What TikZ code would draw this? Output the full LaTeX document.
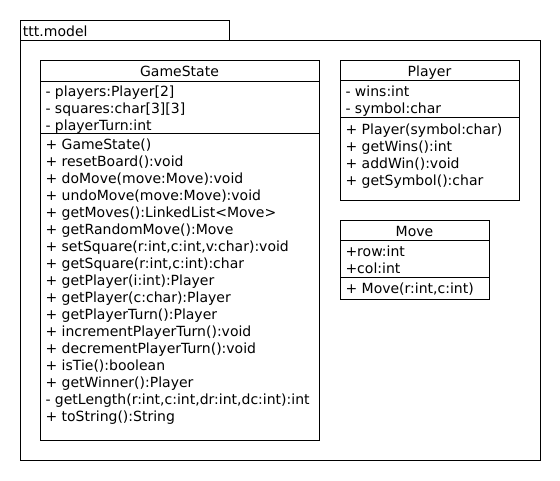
\documentclass[tikz,border=0pt]{standalone}
\usepackage{fontspec}
\setmainfont{DejaVu Sans}
\usepackage{tikz}

\begin{document}
\begin{tikzpicture}[x=1pt, y=-1pt, line width=1pt,
    every node/.style={inner sep=0pt, font=\fontsize{14}{17}\selectfont},
    classbox/.style={draw, anchor=north west},
    members/.style={anchor=base west, align=left}]

    \useasboundingbox (0,0) rectangle (560,480);

    % Package
    \node (tab) [draw, anchor=north west, minimum width=209pt, minimum height=20pt] at (20,20) {};
    \node (pkg) [draw, anchor=north west, minimum width=520pt, minimum height=420pt] at (20,40) {};
    \node (pkgname) [anchor=base west] at (22.5,36) {ttt.model};

    % GameState (members placed by the baseline of their last line)
    \node (gamestate) [classbox, minimum width=279pt, minimum height=380pt] at (40,60) {};
    \node (gamestatename) [anchor=base] at (179.5,76.5) {GameState};
    \draw (gamestate.west |- 0,81) -- (gamestate.east |- 0,81);
    \draw (gamestate.west |- 0,133) -- (gamestate.east |- 0,133);
    \node (gamestateattr) [members] at (45,130) {
        - players:Player[2]\\
        - squares:char[3][3]\\
        - playerTurn:int
    };
    \node (gamestateops) [members] at (45,421.5) {
        + GameState()\\
        + resetBoard():void\\
        + doMove(move:Move):void\\
        + undoMove(move:Move):void\\
        + getMoves():LinkedList<Move>\\
        + getRandomMove():Move\\
        + setSquare(r:int,c:int,v:char):void\\
        + getSquare(r:int,c:int):char\\
        + getPlayer(i:int):Player\\
        + getPlayer(c:char):Player\\
        + getPlayerTurn():Player\\
        + incrementPlayerTurn():void\\
        + decrementPlayerTurn():void\\
        + isTie():boolean\\
        + getWinner():Player\\
        - getLength(r:int,c:int,dr:int,dc:int):int\\
        + toString():String
    };

    % Player
    \node (player) [classbox, minimum width=179pt, minimum height=140pt] at (340,60) {};
    \node (playername) [anchor=base] at (429.5,76.5) {Player};
    \draw (player.west |- 0,80) -- (player.east |- 0,80);
    \draw (player.west |- 0,117) -- (player.east |- 0,117);
    \node (playerattr) [members] at (345,113) {
        - wins:int\\
        - symbol:char
    };
    \node (playerops) [members] at (345,185) {
        + Player(symbol:char)\\
        + getWins():int\\
        + addWin():void\\
        + getSymbol():char
    };

    % Move
    \node (move) [classbox, minimum width=149pt, minimum height=79pt] at (340,220) {};
    \node (movename) [anchor=base] at (414.5,236) {Move};
    \draw (move.west |- 0,240) -- (move.east |- 0,240);
    \draw (move.west |- 0,277) -- (move.east |- 0,277);
    \node (moveattr) [members] at (345,273) {
        +row:int\\
        +col:int
    };
    \node (moveops) [members] at (345,293.5) {
        + Move(r:int,c:int)
    };

\end{tikzpicture}
\end{document}
